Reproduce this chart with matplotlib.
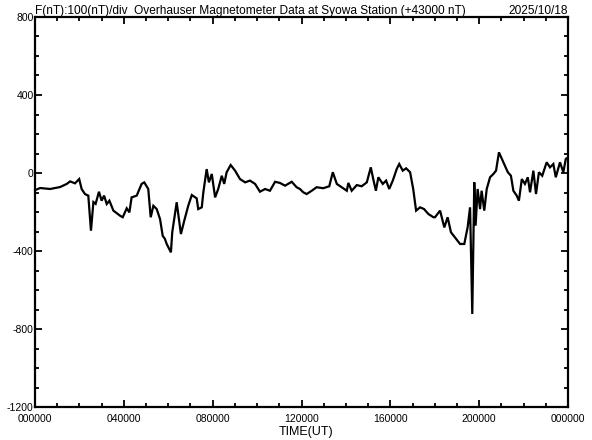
import matplotlib
matplotlib.use("Agg")
import matplotlib.pyplot as plt
from matplotlib.ticker import MultipleLocator
from matplotlib import font_manager

# time in hours (UT) and total-force deviation in nT (+43000 nT baseline)
hours = [0.00, 0.23, 0.68, 1.13, 1.43, 1.58, 1.80, 1.99, 2.10, 2.25, 2.40, 2.52, 2.63, 2.73,
         2.88, 3.00, 3.11, 3.23, 3.35, 3.53, 3.83, 3.95, 4.13, 4.25, 4.35, 4.58, 4.80, 4.92,
         5.10, 5.21, 5.33, 5.48, 5.63, 5.75, 5.85, 5.93, 6.00, 6.12, 6.18, 6.27, 6.38, 6.48,
         6.57, 6.72, 6.90, 7.06, 7.28, 7.35, 7.51, 7.58, 7.73, 7.83, 7.96, 8.11, 8.25, 8.41,
         8.52, 8.63, 8.81, 9.01, 9.23, 9.46, 9.68, 9.91, 10.13, 10.36, 10.58, 10.81, 11.03,
         11.26, 11.56, 11.78, 11.93, 12.08, 12.23, 12.46, 12.68, 12.98, 13.25, 13.41, 13.59,
         13.81, 14.04, 14.11, 14.26, 14.49, 14.71, 14.94, 15.12, 15.23, 15.35, 15.46, 15.66,
         15.81, 15.95, 16.11, 16.29, 16.40, 16.56, 16.71, 16.89, 17.03, 17.16, 17.34, 17.52,
         17.71, 17.94, 18.01, 18.24, 18.43, 18.58, 18.73, 18.91, 19.14, 19.33, 19.48, 19.59,
         19.69, 19.78, 19.84, 19.93, 20.04, 20.11, 20.23, 20.34, 20.49, 20.64, 20.76, 20.89,
         21.09, 21.29, 21.43, 21.54, 21.69, 21.79, 21.92, 22.06, 22.19, 22.29, 22.44, 22.56,
         22.69, 22.84, 23.04, 23.19, 23.34, 23.45, 23.64, 23.79, 23.90, 24.00]
f_nt = [-88, -77, -82, -72, -56, -43, -53, -31, -82, -108, -116, -296, -149, -158,
        -96, -142, -116, -159, -142, -193, -219, -227, -181, -202, -125, -116, -56, -48,
        -82, -227, -168, -185, -236, -322, -338, -364, -380, -407, -304, -236, -150, -236,
        -313, -245, -168, -113, -130, -185, -176, -99, 20, -48, -5, -125, -82, -14,
        -56, 4, 41, 12, -31, -48, -39, -56, -96, -82, -91, -45, -51,
        -65, -45, -73, -82, -99, -108, -91, -73, -78, -68, 4, -56,
        -73, -91, -51, -91, -62, -68, -48, 29, -31, -91, -22, -56,
        -39, -82, -39, 21, 46, 12, 24, 4, -82, -193, -176, -185,
        -210, -227, -227, -193, -279, -227, -304, -330, -364, -364, -279, -176,
        -723, -48, -270, -82, -185, -91, -193, -82, -22, -5, 12, 106,
        55, 4, -14, -91, -116, -142, -31, -56, -22, -99, 12, -108,
        4, -14, 55, 29, 46, -22, 55, 4, 72, 80]

xtick_pos = [0, 4, 8, 12, 16, 20, 24]
xtick_labels = ["000000", "040000", "080000", "120000", "160000", "200000", "000000"]
ytick_pos = [-1200, -800, -400, 0, 400, 800]

title_text = "F(nT):100(nT)/div  Overhauser Magnetometer Data at Syowa Station (+43000 nT)"
date_text = "2025/10/18"

fam = "Liberation Sans"
plt.rcParams["font.family"] = [fam, "DejaVu Sans"]

fig = plt.figure(figsize=(5.92, 4.40), dpi=100)
ax = fig.add_axes([35 / 592, 33 / 440, 533 / 592, 390 / 440])
ax.plot(hours, f_nt, color="black", linewidth=1.6, solid_joinstyle="miter")

ax.set_xlim(0, 24)
ax.set_ylim(-1200, 800)
ax.set_xticks(xtick_pos)
ax.set_xticklabels(xtick_labels)
ax.set_yticks(ytick_pos)
ax.set_yticklabels([str(v) for v in ytick_pos])
ax.xaxis.set_minor_locator(MultipleLocator(1))
ax.yaxis.set_minor_locator(MultipleLocator(100))

for s in ax.spines.values():
    s.set_linewidth(1.6)
ax.tick_params(which="both", direction="in", top=True, right=True, width=1.3,
               labelsize=7.5)
ax.tick_params(which="major", length=5)
ax.tick_params(which="minor", length=3)
ax.tick_params(axis="y", pad=1)
ax.tick_params(axis="x", pad=5)

# title sized to span the same width as in the reference (~432 px)
t = fig.text(35 / 592, 1 - 17 / 440, title_text, ha="left", va="bottom", fontsize=9)
fig.canvas.draw()
w = t.get_window_extent(renderer=fig.canvas.get_renderer()).width
t.set_fontsize(9 * 432 / w)
fig.text(568 / 592, 1 - 17 / 440, date_text, ha="right", va="bottom",
         fontsize=9 * 432 / w)
fig.text(306 / 592, 1 - 432 / 440, "TIME(UT)", ha="center", va="center", fontsize=9)

fig.savefig("out.png", dpi=100)
